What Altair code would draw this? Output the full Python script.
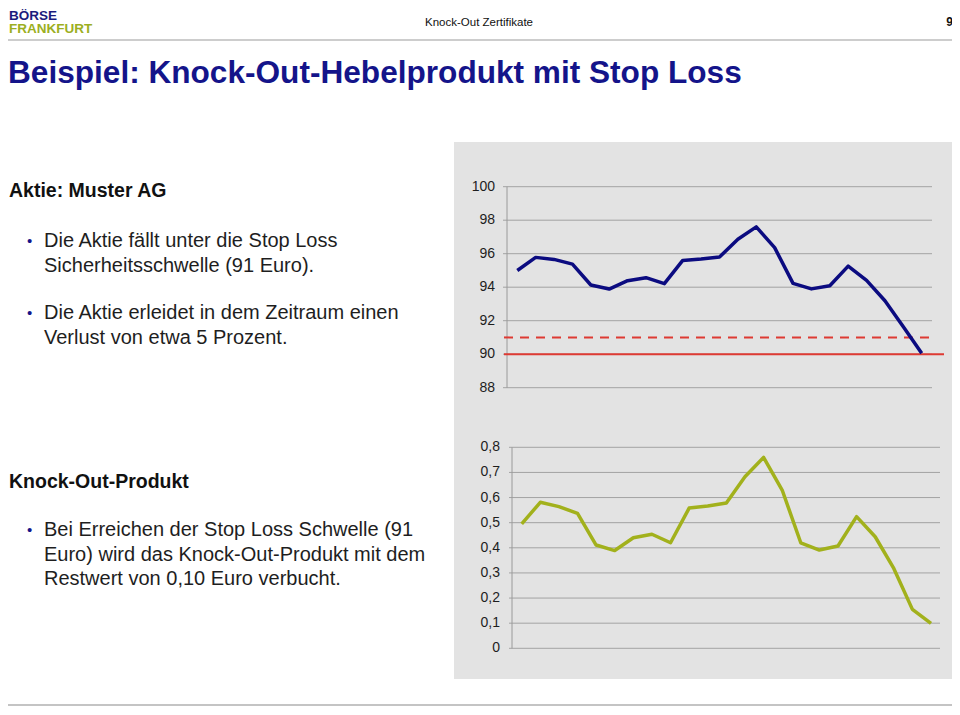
import altair as alt
import pandas as pd

FONT = "Liberation Sans"
NAVY = "#14148a"
OLIVE = "#a2b11c"
RED = "#de3a33"

# ---------------- data ----------------
days = list(range(1, 24))
stock_values = [95.0, 95.78, 95.66, 95.38, 94.13, 93.89, 94.39, 94.57, 94.21,
                95.6, 95.68, 95.8, 96.86, 97.6, 96.36, 94.23, 93.9, 94.09,
                95.26, 94.41, 93.19, 91.64, 90.05]
ko_values = [0.495, 0.581, 0.564, 0.537, 0.411, 0.389, 0.44, 0.454, 0.42,
             0.558, 0.566, 0.578, 0.683, 0.76, 0.63, 0.42, 0.391, 0.407,
             0.524, 0.444, 0.318, 0.155, 0.099]
stock_ticks = [88, 90, 92, 94, 96, 98, 100]
stock_tick_labels = ["88", "90", "92", "94", "96", "98", "100"]
ko_ticks = [0, 0.1, 0.2, 0.3, 0.4, 0.5, 0.6, 0.7, 0.8]
ko_tick_labels = ["0", "0,1", "0,2", "0,3", "0,4", "0,5", "0,6", "0,7", "0,8"]
stop_loss_level = 91
knock_level = 90

logo_top = "BÖRSE"
logo_bottom = "FRANKFURT"
header_text = "Knock-Out Zertifikate"
page_number = "9"
title_text = "Beispiel: Knock-Out-Hebelprodukt mit Stop Loss"
heading1 = "Aktie: Muster AG"
bullets1 = [["Die Aktie fällt unter die Stop Loss", "Sicherheitsschwelle (91 Euro)."],
            ["Die Aktie erleidet  in dem Zeitraum einen", "Verlust von etwa 5 Prozent."]]
heading2 = "Knock-Out-Produkt"
bullets2 = [["Bei Erreichen der Stop Loss Schwelle (91",
             "Euro) wird das Knock-Out-Produkt mit dem",
             "Restwert von 0,10 Euro verbucht."]]

# --------------- helpers ---------------
def P(v):
    """page pixel -> chart pixel (page has 8px margin)"""
    return v - 8

one = pd.DataFrame({"k": [0]})

def text(s, x, y, size=20, bold=False, color="#1a1a1a", align="left"):
    return alt.Chart(one).mark_text(
        text=s, x=P(x), y=P(y), fontSize=size, font=FONT,
        fontWeight="bold" if bold else "normal", color=color,
        align=align, baseline="alphabetic")

def rule(x1, x2, y1, y2, color, width):
    return alt.Chart(one).mark_rule(color=color, strokeWidth=width).encode(
        x=alt.value(P(x1)), x2=alt.value(P(x2)),
        y=alt.value(P(y1)), y2=alt.value(P(y2)))

# --------------- decoration ---------------
panel = alt.Chart(one).mark_rect(color="#e3e3e3").encode(
    x=alt.value(P(454)), x2=alt.value(P(958)),
    y=alt.value(P(142)), y2=alt.value(P(679)))

LEFT = 9
layers = [panel,
          rule(0, 958, 40, 40, "#cdcdcd", 2),
          rule(0, 958, 705, 705, "#c4c4c4", 2),
          text(logo_top, LEFT, 19.5, size=13.5, bold=True, color="#1b1b7d"),
          text(logo_bottom, LEFT, 33, size=13.5, bold=True, color="#9caf1f"),
          text(header_text, 479, 26, size=11.5, color="#111111", align="center"),
          text(page_number, 953, 26, size=12, bold=True, color="#111111", align="right"),
          text(title_text, LEFT - 1, 83, size=31.6, bold=True, color=NAVY),
          text(heading1, LEFT, 197, size=19.5, bold=True, color="#111111"),
          text(heading2, LEFT, 488, size=19.5, bold=True, color="#111111")]

def bullet_block(blocks, starts):
    out = []
    for lines, y0 in zip(blocks, starts):
        out.append(text("•", 27, y0 - 1, size=15, color=NAVY))
        for i, ln in enumerate(lines):
            out.append(text(ln, 44, y0 + 24.5 * i, size=20, color="#1e1e1e"))
    return out

layers += bullet_block(bullets1, [247, 319])
layers += bullet_block(bullets2, [536])

# --------------- upper chart (stock) ---------------
up_x = alt.Scale(domain=[1, 23], range=[P(517.3), P(921.7)], nice=False)
up_y = alt.Scale(domain=[88, 100], range=[P(387.7), P(186.7)], nice=False, zero=False)
stock_df = pd.DataFrame({"day": days, "price": stock_values})
stock_tick_df = pd.DataFrame({"v": stock_ticks, "lab": stock_tick_labels})

up_grid = alt.Chart(stock_tick_df).mark_rule(color="#a3a3a3", strokeWidth=1).encode(
    y=alt.Y("v:Q", scale=up_y, axis=None), x=alt.value(P(503)), x2=alt.value(P(932)))
up_axis = alt.Chart(one).mark_rule(color="#9a9a9a", strokeWidth=1).encode(
    x=alt.value(P(507)), y=alt.Y(datum=88, scale=up_y, axis=None), y2=alt.Y2(datum=100))
up_labels = alt.Chart(stock_tick_df).mark_text(
    align="right", baseline="middle", fontSize=14, font=FONT, color="#1e1e1e").encode(
    y=alt.Y("v:Q", scale=up_y, axis=None), x=alt.value(P(495)), text="lab:N")
up_ko = alt.Chart(one).mark_rule(color=RED, strokeWidth=2).encode(
    y=alt.Y(datum=knock_level, scale=up_y, axis=None), x=alt.value(P(504)), x2=alt.value(P(944)))
up_sl = alt.Chart(one).mark_rule(color=RED, strokeWidth=2, strokeDash=[9, 7]).encode(
    y=alt.Y(datum=stop_loss_level, scale=up_y, axis=None), x=alt.value(P(504)), x2=alt.value(P(936)))
up_line = alt.Chart(stock_df).mark_line(color="#0b0b80", strokeWidth=3.5, strokeJoin="round").encode(
    x=alt.X("day:Q", scale=up_x, axis=None), y=alt.Y("price:Q", scale=up_y, axis=None))
upper = alt.layer(up_grid, up_axis, up_labels, up_sl, up_ko, up_line)

# --------------- lower chart (knock-out product) ---------------
lo_x = alt.Scale(domain=[1, 23], range=[P(521.7), P(931)], nice=False)
lo_y = alt.Scale(domain=[0, 0.8], range=[P(648.3), P(447.3)], nice=False)
ko_df = pd.DataFrame({"day": days, "value": ko_values})
ko_tick_df = pd.DataFrame({"v": ko_ticks, "lab": ko_tick_labels})

lo_grid = alt.Chart(ko_tick_df).mark_rule(color="#a3a3a3", strokeWidth=1).encode(
    y=alt.Y("v:Q", scale=lo_y, axis=None), x=alt.value(P(509)), x2=alt.value(P(940)))
lo_axis = alt.Chart(one).mark_rule(color="#9a9a9a", strokeWidth=1).encode(
    x=alt.value(P(512)), y=alt.Y(datum=0, scale=lo_y, axis=None), y2=alt.Y2(datum=0.8))
lo_labels = alt.Chart(ko_tick_df).mark_text(
    align="right", baseline="middle", fontSize=14, font=FONT, color="#1e1e1e").encode(
    y=alt.Y("v:Q", scale=lo_y, axis=None), x=alt.value(P(500)), text="lab:N")
lo_line = alt.Chart(ko_df).mark_line(color=OLIVE, strokeWidth=3.5, strokeJoin="round").encode(
    x=alt.X("day:Q", scale=lo_x, axis=None), y=alt.Y("value:Q", scale=lo_y, axis=None))
lower = alt.layer(lo_grid, lo_axis, lo_labels, lo_line)

chart = alt.layer(*layers, upper, lower).resolve_scale(
    x="independent", y="independent").properties(
    width=944, height=699, autosize=alt.AutoSizeParams(type="none"),
    padding=0, background="white").configure_view(stroke=None)

chart.save("out.html", embed_options={"renderer": "svg", "actions": False})
